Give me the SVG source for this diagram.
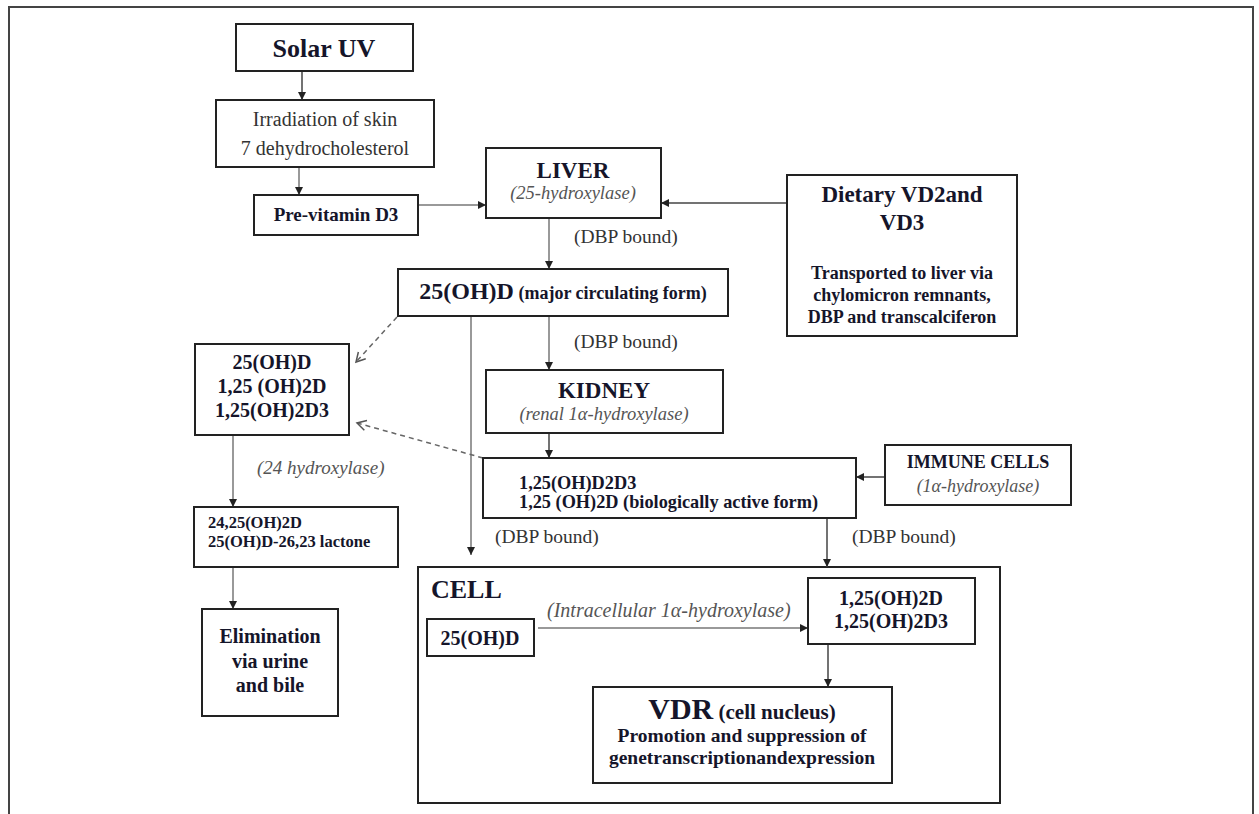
<svg xmlns="http://www.w3.org/2000/svg" width="1259" height="814" viewBox="0 0 1259 814">
<defs>
<marker id="ah" markerWidth="10" markerHeight="10" refX="9" refY="5" orient="auto" markerUnits="userSpaceOnUse">
<path d="M1,1 L9,5 L1,9 Z" fill="#222"/>
</marker>
<marker id="oh" markerWidth="12" markerHeight="12" refX="10" refY="6" orient="auto" markerUnits="userSpaceOnUse">
<path d="M1,1 L10,6 L1,11" fill="none" stroke="#555" stroke-width="1.5"/>
</marker>
<style>
.box{fill:#fff;stroke:#222;stroke-width:2}
.frame{fill:none;stroke:#222;stroke-width:2}
.t{font-family:"Liberation Serif","Times New Roman",serif;fill:#15152a}
.b{font-weight:bold}
.c{text-anchor:middle}
.i{font-style:italic;fill:#555}
.g{fill:#333}
.ln{fill:none;stroke:#444;stroke-width:1.5}
.lg{fill:none;stroke:#777;stroke-width:1.5}
.ds{fill:none;stroke:#666;stroke-width:1.5;stroke-dasharray:5,4}
</style>
</defs>
<rect width="1259" height="814" fill="#fff"/>
<path d="M9,814 V7 H1253 V814" fill="none" stroke="#444" stroke-width="2"/>

<g id="cell">
<rect class="frame" x="418" y="567" width="582" height="236"/>
<text class="t b" x="431" y="598" font-size="26">CELL</text>
</g>

<g id="connectors">
<line class="ln" x1="302" y1="71" x2="302" y2="100" marker-end="url(#ah)"/>
<line class="lg" x1="299" y1="167" x2="299" y2="195" marker-end="url(#ah)"/>
<line class="lg" x1="418" y1="205" x2="486" y2="205" marker-end="url(#ah)"/>
<line class="ln" x1="787" y1="203" x2="661" y2="203" marker-end="url(#ah)"/>
<line class="lg" x1="549" y1="218" x2="549" y2="269" marker-end="url(#ah)"/>
<line class="lg" x1="549" y1="316" x2="549" y2="370" marker-end="url(#ah)"/>
<line class="lg" x1="471" y1="316" x2="471" y2="555" marker-end="url(#ah)"/>
<line class="ln" x1="549" y1="433" x2="549" y2="458" marker-end="url(#ah)"/>
<line class="ln" x1="885" y1="477" x2="856" y2="477" marker-end="url(#ah)"/>
<line class="ln" x1="827" y1="518" x2="827" y2="567" marker-end="url(#ah)"/>
<line class="ds" x1="397" y1="317" x2="356" y2="362" marker-end="url(#oh)"/>
<line class="ds" x1="483" y1="458" x2="357" y2="423" marker-end="url(#oh)"/>
<line class="lg" x1="233" y1="435" x2="233" y2="507" marker-end="url(#ah)"/>
<line class="lg" x1="233" y1="567" x2="233" y2="609" marker-end="url(#ah)"/>
<line class="lg" x1="538" y1="628" x2="808" y2="628" marker-end="url(#ah)"/>
<line class="ln" x1="828" y1="644" x2="828" y2="687" marker-end="url(#ah)"/>
<text class="t g" x="574" y="243" font-size="19.5">(DBP bound)</text>
<text class="t g" x="574" y="348" font-size="19.5">(DBP bound)</text>
<text class="t g" x="495" y="543" font-size="19.5">(DBP bound)</text>
<text class="t g" x="852" y="543" font-size="19.5">(DBP bound)</text>
<text class="t i" x="257" y="474" font-size="19">(24 hydroxylase)</text>
<text class="t i" x="547" y="617" font-size="20">(Intracellular 1α-hydroxylase)</text>
</g>

<g id="solar-uv">
<rect class="box" x="236" y="24" width="177" height="47"/>
<text class="t b c" x="324" y="57" font-size="26">Solar UV</text>
</g>
<g id="irradiation">
<rect class="box" x="216" y="100" width="218" height="67"/>
<text class="t c g" x="325" y="126" font-size="20">Irradiation of skin</text>
<text class="t c g" x="325" y="155" font-size="20">7 dehydrocholesterol</text>
</g>
<g id="previtamin">
<rect class="box" x="254" y="195" width="164" height="40"/>
<text class="t b c" x="336" y="221" font-size="19">Pre-vitamin D3</text>
</g>
<g id="liver">
<rect class="box" x="486" y="148" width="175" height="70"/>
<text class="t b c" x="573" y="178" font-size="23">LIVER</text>
<text class="t i c" x="573" y="199" font-size="18.5">(25-hydroxylase)</text>
</g>
<g id="dietary">
<rect class="box" x="787" y="175" width="230" height="161"/>
<text class="t b c" x="902" y="202" font-size="23">Dietary VD2and</text>
<text class="t b c" x="902" y="230" font-size="23">VD3</text>
<text class="t b c" x="902" y="279" font-size="18">Transported to liver via</text>
<text class="t b c" x="902" y="301" font-size="18">chylomicron remnants,</text>
<text class="t b c" x="902" y="323" font-size="18">DBP and transcalciferon</text>
</g>
<g id="circulating">
<rect class="box" x="398" y="269" width="330" height="47"/>
<text class="t b c" x="563" y="299"><tspan font-size="24">25(OH)D</tspan><tspan font-size="18"> (major circulating form)</tspan></text>
</g>
<g id="kidney">
<rect class="box" x="486" y="370" width="237" height="63"/>
<text class="t b c" x="604" y="398" font-size="23">KIDNEY</text>
<text class="t i c" x="604" y="420" font-size="18.5">(renal 1α-hydroxylase)</text>
</g>
<g id="active-form">
<rect class="box" x="483" y="458" width="373" height="60"/>
<text class="t b" x="519" y="489" font-size="18.3">1,25(OH)D2D3</text>
<text class="t b" x="519" y="508" font-size="18.3">1,25 (OH)2D (biologically active form)</text>
</g>
<g id="immune">
<rect class="box" x="885" y="445" width="186" height="60"/>
<text class="t b c" x="978" y="468" font-size="18">IMMUNE CELLS</text>
<text class="t i c" x="978" y="492" font-size="18">(1α-hydroxylase)</text>
</g>
<g id="metabolites">
<rect class="box" x="195" y="344" width="154" height="91"/>
<text class="t b c" x="272" y="369" font-size="20">25(OH)D</text>
<text class="t b c" x="272" y="393" font-size="20">1,25 (OH)2D</text>
<text class="t b c" x="272" y="417" font-size="20">1,25(OH)2D3</text>
</g>
<g id="lactone">
<rect class="box" x="194" y="507" width="204" height="60"/>
<text class="t b" x="208" y="528" font-size="16.5">24,25(OH)2D</text>
<text class="t b" x="208" y="547" font-size="16.5">25(OH)D-26,23 lactone</text>
</g>
<g id="elimination">
<rect class="box" x="202" y="609" width="136" height="107"/>
<text class="t b c" x="270" y="643" font-size="20">Elimination</text>
<text class="t b c" x="270" y="668" font-size="20">via urine</text>
<text class="t b c" x="270" y="692" font-size="20">and bile</text>
</g>
<g id="cell-25ohd">
<rect class="box" x="427" y="619" width="107" height="37"/>
<text class="t b c" x="480" y="645" font-size="20">25(OH)D</text>
</g>
<g id="cell-125">
<rect class="box" x="808" y="578" width="167" height="66"/>
<text class="t b c" x="891" y="605" font-size="20">1,25(OH)2D</text>
<text class="t b c" x="891" y="628" font-size="20">1,25(OH)2D3</text>
</g>
<g id="vdr">
<rect class="box" x="593" y="687" width="299" height="96"/>
<text class="t b c" x="742" y="719"><tspan font-size="30">VDR</tspan><tspan font-size="21"> (cell nucleus)</tspan></text>
<text class="t b c" x="742" y="742" font-size="19.5">Promotion and suppression of</text>
<text class="t b c" x="742" y="764" font-size="19.5">genetranscriptionandexpression</text>
</g>
</svg>
